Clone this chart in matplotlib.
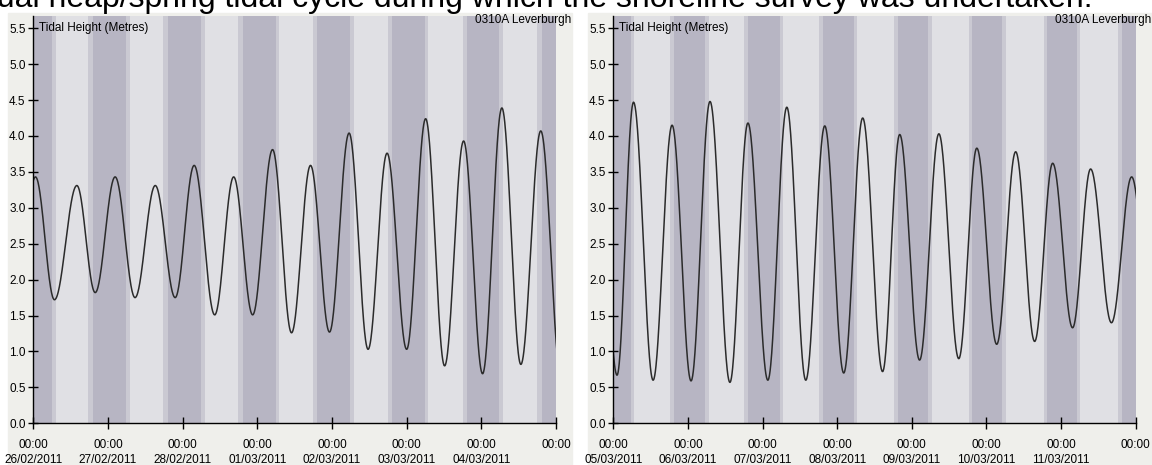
import matplotlib.pyplot as plt
from matplotlib.patches import Rectangle
import numpy as np

# --- data ---
TITLE = "actual neap/spring tidal cycle during which the shoreline survey was undertaken."
STATION = "0310A Leverburgh"
YLABEL = "Tidal Height (Metres)"

left_days = ["26/02/2011", "27/02/2011", "28/02/2011", "01/03/2011",
             "02/03/2011", "03/03/2011", "04/03/2011"]
right_days = ["05/03/2011", "06/03/2011", "07/03/2011", "08/03/2011",
              "09/03/2011", "10/03/2011", "11/03/2011"]

# high / low water times (hours from panel start) and heights (m)
left_t = [-5.6, 0.7, 6.8, 14.0, 19.9, 26.3, 32.7, 39.2, 45.6, 51.7, 58.3, 64.4,
          70.5, 76.9, 83.0, 89.1, 95.2, 101.5, 107.6, 113.7, 120.0, 126.1,
          132.2, 138.3, 144.4, 150.6, 156.7, 163.1, 169.6]
left_h = [1.75, 3.43, 1.72, 3.31, 1.82, 3.43, 1.75, 3.31, 1.75, 3.59, 1.51, 3.43,
          1.51, 3.81, 1.26, 3.59, 1.27, 4.04, 1.03, 3.76, 1.03, 4.24,
          0.80, 3.93, 0.69, 4.39, 0.82, 4.07, 0.68]

right_t = [-4.9, 1.2, 6.5, 12.8, 18.9, 25.0, 31.1, 37.5, 43.3, 49.7, 55.8, 61.9,
           68.0, 74.1, 80.2, 86.6, 92.1, 98.5, 104.7, 111.1, 116.9, 123.3,
           129.4, 135.5, 141.3, 147.7, 153.5, 160.2, 166.7, 173.0]
right_h = [4.07, 0.67, 4.47, 0.60, 4.15, 0.59, 4.48, 0.57, 4.18, 0.60, 4.40, 0.60,
           4.14, 0.70, 4.25, 0.72, 4.02, 0.88, 4.03, 0.90, 3.83, 1.10,
           3.78, 1.14, 3.62, 1.33, 3.54, 1.40, 3.43, 1.45]

# daylight shading per day (hour of day): dark -> twilight -> light -> twilight -> dark
dawn = [5.95, 5.95, 5.9, 5.85, 5.8, 5.75, 5.7, 5.6, 5.5, 5.45, 5.35, 5.25, 5.15, 5.05]
sunrise = [7.2, 7.2, 7.15, 7.1, 7.0, 6.95, 6.85, 6.8, 6.7, 6.6, 6.5, 6.4, 6.3, 6.2]
sunset = [17.7, 17.8, 17.85, 17.9, 17.95, 18.0, 18.05, 18.1, 18.15, 18.2, 18.25, 18.3, 18.35, 18.4]
dusk = [19.15, 19.2, 19.25, 19.3, 19.3, 19.35, 19.35, 19.4, 19.4, 19.45, 19.45, 19.5, 19.5, 19.5]

DARK = "#b7b5c3"
TWI = "#cac9d2"
LIGHT = "#e0e0e4"
BG = "#efefeb"
FONT = ["Liberation Sans", "DejaVu Sans"]


def tide_curve(t, h):
    # half-cosine between successive high and low waters
    xs, ys = [], []
    for i in range(len(t) - 1):
        s = np.linspace(0, 1, 60)
        xs.append(t[i] + (t[i + 1] - t[i]) * s)
        ys.append(h[i] + (h[i + 1] - h[i]) * (1 - np.cos(np.pi * s)) / 2)
    return np.concatenate(xs), np.concatenate(ys)


def draw_panel(ax, days, t, h, day0):
    for d in range(len(days)):
        k = day0 + d
        base = d * 24
        ax.axvspan(base, base + dawn[k], color=DARK, lw=0)
        ax.axvspan(base + dawn[k], base + sunrise[k], color=TWI, lw=0)
        ax.axvspan(base + sunrise[k], base + sunset[k], color=LIGHT, lw=0)
        ax.axvspan(base + sunset[k], base + dusk[k], color=TWI, lw=0)
        ax.axvspan(base + dusk[k], base + 24, color=DARK, lw=0)

    x, y = tide_curve(t, h)
    ax.plot(x, y, color="#2b2b2b", lw=1.1)

    n = len(days) * 24
    ax.set_xlim(0, n)
    ax.set_ylim(0, 5.67)
    ax.set_facecolor(LIGHT)
    for s in ["top", "right"]:
        ax.spines[s].set_visible(False)
    for s in ["left", "bottom"]:
        ax.spines[s].set_color("black")
        ax.spines[s].set_linewidth(1)

    ax.set_xticks(np.arange(0, n + 1, 24))
    ax.set_xticklabels(["00:00\n" + d for d in days] + ["00:00"],
                       family=FONT, fontsize=8.5, linespacing=1.25, va="top")
    ax.set_yticks(np.arange(0, 5.51, 0.5))
    ax.set_yticklabels(["%.1f" % v for v in np.arange(0, 5.51, 0.5)],
                       family=FONT, fontsize=8.5)
    ax.tick_params(axis="x", direction="inout", length=9, width=1, pad=7)
    ax.tick_params(axis="y", direction="inout", length=7, width=1, pad=2)

    ax.text(0.01, 5.5, YLABEL, family=FONT, fontsize=8.5, va="center", ha="left",
            transform=ax.get_yaxis_transform())
    ax.text(n + 5, 5.62, STATION, family=FONT, fontsize=8.5, va="center", ha="right",
            clip_on=False)


fig = plt.figure(figsize=(11.52, 4.65), dpi=100)
fig.patch.set_facecolor("white")

W, H = 1152.0, 465.0
fig.add_artist(Rectangle((8 / W, 0), (572 - 8) / W, (H - 13) / H,
                         transform=fig.transFigure, color=BG, zorder=0))
fig.add_artist(Rectangle((588 / W, 0), (W - 588) / W, (H - 13) / H,
                         transform=fig.transFigure, color=BG, zorder=0))

ax1 = fig.add_axes([33.3 / W, (H - 423.3) / H, (556 - 33.3) / W, (423.3 - 16) / H])
ax2 = fig.add_axes([613.3 / W, (H - 423.3) / H, (1135.7 - 613.3) / W, (423.3 - 16) / H])

draw_panel(ax1, left_days, left_t, left_h, 0)
draw_panel(ax2, right_days, right_t, right_h, 7)

fig.text(1093 / W, 1 - 6.5 / H, TITLE, family=["Liberation Sans", "DejaVu Sans"],
         fontsize=23, ha="right", va="baseline")

fig.savefig("out.png", dpi=100)
